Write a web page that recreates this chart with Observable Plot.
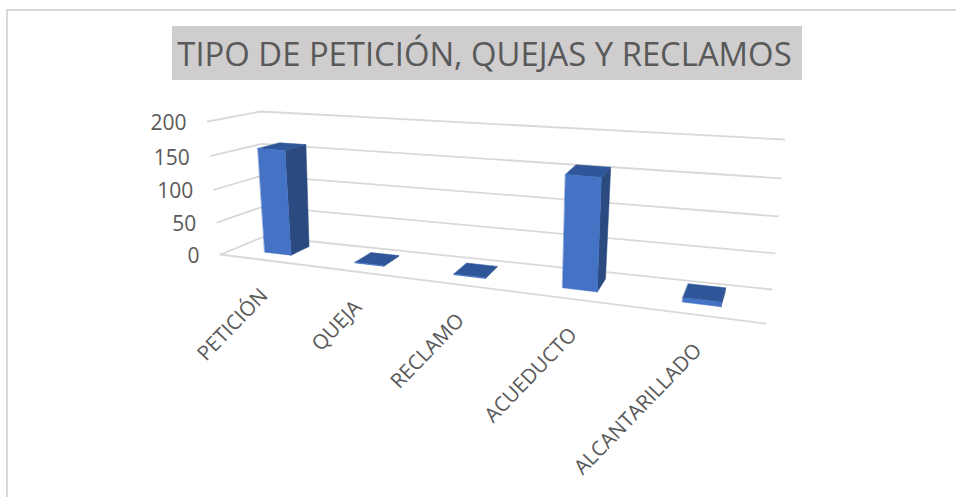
<!DOCTYPE html>
<html>
<head>
<meta charset="utf-8">
<script src="https://cdn.jsdelivr.net/npm/d3@7"></script>
<script src="https://cdn.jsdelivr.net/npm/@observablehq/plot@0.6"></script>
<style>
html,body{margin:0;padding:0;background:#fff;}
#page{position:relative;width:956px;height:497px;overflow:hidden;font-family:"Open Sans",sans-serif;}
#frame{position:absolute;left:6px;top:9px;width:960px;height:500px;border:2px solid #d9d9d9;box-sizing:border-box;}
#title{position:absolute;left:172px;top:26px;width:630px;height:54px;line-height:55px;background:#cfcdce;color:#595959;font-size:32.8px;text-align:center;white-space:nowrap;text-indent:-5px;}
#chart{position:absolute;left:0;top:80px;}
</style>
</head>
<body>
<div id="page">
<div id="frame"></div>
<div id="title">TIPO DE PETICIÓN, QUEJAS Y RECLAMOS</div>
<div id="chart"></div>
</div>
<script>
const categories = ["PETICIÓN", "QUEJA", "RECLAMO", "ACUEDUCTO", "ALCANTARILLADO"];
const values = [159, 1, 1, 157, 6];
const ticks = [0, 50, 100, 150, 200];

// Perspective frame of the 3D plot box (pixel corners of the walls)
const box = {
  fb0: [220, 254], fb1: [765, 323], ft0: [207, 121], ft1: [777, 165],
  bb0: [264, 236], bb1: [771, 289], bt0: [260, 111], bt1: [784, 139]
};
const Q = 1.27, R = 1.05, vMax = 200;
const lerp = (a, b, t) => a + (b - a) * t;
function project(s, v, d) {
  const t = s / (s + Q * (1 - s));
  const n = v / vMax;
  const f = n / (n + R * (1 - n));
  return [0, 1].map((k) => {
    const near = lerp(lerp(box.fb0[k], box.fb1[k], t), lerp(box.ft0[k], box.ft1[k], t), f);
    const far = lerp(lerp(box.bb0[k], box.bb1[k], t), lerp(box.bt0[k], box.bt1[k], t), f);
    return lerp(near, far, d);
  });
}
const pt = (s, v, d) => { const [x, y] = project(s, v, d); return {x, y}; };

const bw = 0.06, d0 = 0.33, d1 = 0.78;
const count = categories.length;
const faces = (fn) => values.flatMap((v, i) => {
  const c = (i + 0.5) / count, a = c - bw / 2, b = c + bw / 2;
  return fn(a, b, v).map((p) => ({...p, id: categories[i]}));
});
const sideFaces = faces((a, b, v) => [pt(b, 0, d0), pt(b, 0, d1), pt(b, v, d1), pt(b, v, d0)]);
const topFaces = faces((a, b, v) => [pt(a, v, d0), pt(b, v, d0), pt(b, v, d1), pt(a, v, d1)]);
const frontFaces = faces((a, b, v) => [pt(a, 0, d0), pt(b, 0, d0), pt(b, v, d0), pt(a, v, d0)]);

const grid = ticks.flatMap((v) => [
  {...pt(0, v, 0), id: v},
  {...pt(0, v, 1), id: v},
  {...pt(1, v, 1), id: v}
]);
const floorFront = [pt(0, 0, 0), pt(1, 0, 0)];
const tickLabels = ticks.map((v) => ({...pt(0, v, 0), label: String(v)}));
const catLabels = categories.map((c, i) => ({...pt((i + 0.5) / count, 0, 0), label: c}));

const face = (data, fill) => Plot.line(data, {x: "x", y: "y", z: "id", curve: "linear-closed", fill, stroke: fill, strokeWidth: 0.5});

const chart = Plot.plot({
  width: 956,
  height: 417,
  margin: 0,
  x: {domain: [0, 956], range: [0, 956], axis: null},
  y: {domain: [80, 497], range: [0, 417], axis: null},
  style: {background: "transparent", fontFamily: "'Open Sans',sans-serif"},
  marks: [
    Plot.line(grid, {x: "x", y: "y", z: "id", stroke: "#d9d9d9", strokeWidth: 1.8}),
    Plot.line(floorFront, {x: "x", y: "y", stroke: "#d9d9d9", strokeWidth: 1.8}),
    face(sideFaces, "#2b4a80"),
    face(topFaces, "#30569a"),
    face(frontFaces, "#4472c4"),
    Plot.text(tickLabels, {x: "x", y: "y", text: "label", textAnchor: "end", dx: -21, dy: 2, fontSize: 21, fill: "#595959"}),
    Plot.text(catLabels, {x: "x", y: "y", text: "label", textAnchor: "end", rotate: -46, dy: 32, fontSize: 20.5, fill: "#595959"})
  ]
});
document.getElementById("chart").appendChild(chart);
</script>
</body>
</html>
